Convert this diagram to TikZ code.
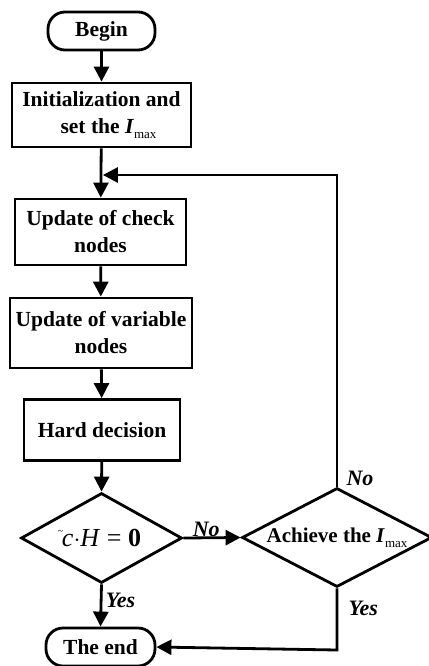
\documentclass[tikz,border=0pt]{standalone}
\usepackage{fontspec}
\setmainfont{Liberation Serif}
\usetikzlibrary{shapes.geometric,arrows.meta}
\begin{document}
\begin{tikzpicture}[x=1pt,y=-1pt,
  font=\fontsize{21.5}{27}\selectfont\bfseries,
  box/.style={draw,line width=2.8pt,align=center,inner sep=0pt},
  term/.style={box,rounded corners=17pt},
  dia/.style={draw,line width=2.8pt,diamond,inner sep=0pt,align=center},
  arr/.style={line width=2.8pt,-{Triangle[length=15pt,width=15pt]}},
  ln/.style={line width=2.8pt},
  lab/.style={font=\fontsize{22}{24}\selectfont\bfseries\itshape}]
\useasboundingbox (0,0) rectangle (428,666);
\newcommand{\Imax}{\textit{I}\raisebox{-0.5ex}{\fontsize{13}{13}\selectfont\mdseries max}}
\node[term,minimum width=107pt,minimum height=38pt] (begin) at (101.5,31) {Begin};
\node[box,minimum width=179pt,minimum height=64pt] (init) at (101.5,115) {Initialization and\\ \hspace*{14pt}set the \Imax};
\node[box,minimum width=171pt,minimum height=66pt] (chk) at (100.5,232) {Update of check\\nodes};
\node[box,minimum width=182pt,minimum height=70pt] (var) at (101,333) {Update of variable\\nodes};
\node[box,minimum width=156pt,minimum height=61pt] (hard) at (102,430) {Hard decision};
\node[dia,aspect=1.79,minimum width=161pt,minimum height=90pt] (d1) at (101.5,538) {\fontsize{26}{26}\selectfont\mdseries\rlap{\hspace*{-4pt}\raisebox{1.0ex}{\fontsize{10}{10}\selectfont\textasciitilde}}\textit{c}$\cdot$\textit{H} = \textbf{0}};
\node[dia,aspect=1.92,minimum width=190pt,minimum height=99pt] (d2) at (337,537.5) {\fontsize{21}{21}\selectfont Achieve the \Imax};
\node[term,minimum width=109pt,minimum height=38pt] (end) at (100.5,647) {The end};
\coordinate (fb) at (101.5,175);
\coordinate (fr) at (337,175);
\coordinate (br) at (337,650);
\draw[arr] (begin) -- (init);
\draw[arr] (init) -- (chk);
\draw[arr] (d2.north) -- (fr) -- ([xshift=1.4pt]fb);
\draw[arr] (chk) -- (var);
\draw[arr] (var) -- (hard);
\draw[arr] (hard) -- (d1.north);
\draw[arr] (d1.east) -- node[lab,above,pos=0.4,yshift=-4pt]{No} (d2.west);
\draw[arr] (d1.south) -- node[lab,right,pos=0.38]{Yes} (end.north);
\draw[arr] (d2.south) -- (br) -- (end.east);
\node[lab,anchor=west] (no2) at (343,478) {No};
\node[lab,anchor=west] (yes2) at (345,608) {Yes};
\end{tikzpicture}
\end{document}
